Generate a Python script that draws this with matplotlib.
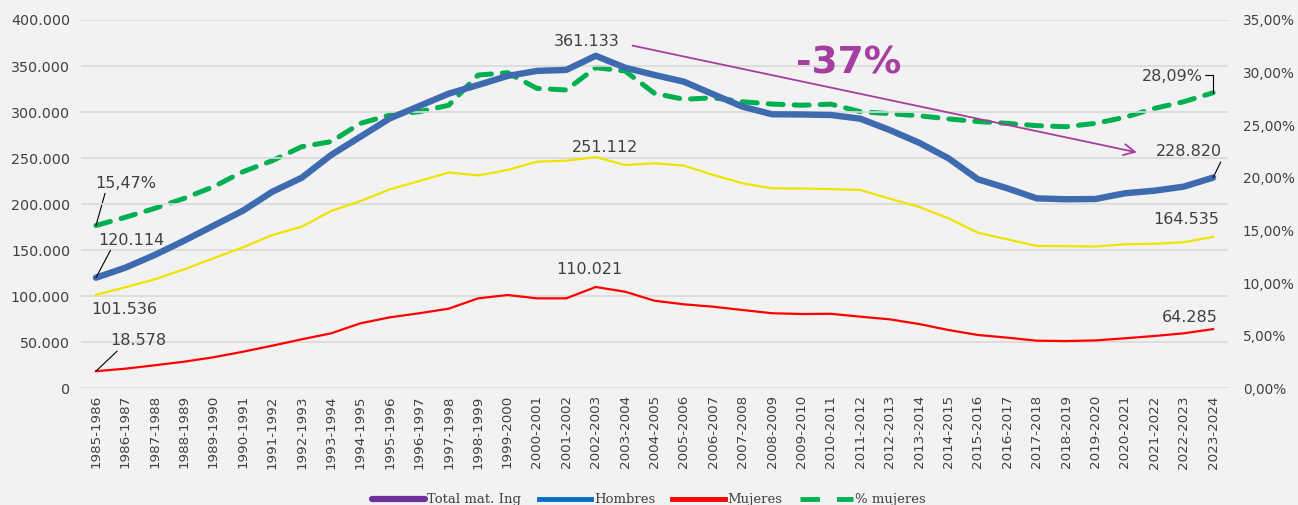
import matplotlib
matplotlib.use("Agg")
import matplotlib.pyplot as plt
from matplotlib.lines import Line2D
from matplotlib.ticker import FuncFormatter, MultipleLocator

# Cursos académicos
cursos = ["1985-1986", "1986-1987", "1987-1988", "1988-1989", "1989-1990", "1990-1991",
          "1991-1992", "1992-1993", "1993-1994", "1994-1995", "1995-1996", "1996-1997",
          "1997-1998", "1998-1999", "1999-2000", "2000-2001", "2001-2002", "2002-2003",
          "2003-2004", "2004-2005", "2005-2006", "2006-2007", "2007-2008", "2008-2009",
          "2009-2010", "2010-2011", "2011-2012", "2012-2013", "2013-2014", "2014-2015",
          "2015-2016", "2016-2017", "2017-2018", "2018-2019", "2019-2020", "2020-2021",
          "2021-2022", "2022-2023", "2023-2024"]

# Matriculados (miles)
total = [120.114, 131.0, 144.8, 160.3, 176.6, 192.9, 213.5, 228.7, 253.4, 273.3,
         293.2, 306.6, 320.0, 329.4, 339.2, 344.7, 345.8, 361.133, 348.2, 340.3,
         333.0, 319.3, 305.8, 297.6, 297.4, 296.8, 292.8, 280.5, 266.7, 249.8,
         227.0, 217.2, 206.3, 205.3, 205.6, 211.8, 214.6, 219.0, 228.820]
hombres = [101.536, 109.7, 118.4, 129.2, 141.2, 153.1, 166.5, 175.5, 192.6, 203.4,
           216.1, 225.1, 234.4, 231.2, 237.1, 246.1, 247.2, 251.112, 242.5, 244.4,
           241.8, 231.7, 222.6, 217.2, 217.0, 216.3, 215.4, 206.0, 197.0, 184.6,
           169.0, 161.8, 154.6, 154.4, 154.0, 156.4, 157.0, 158.6, 164.535]
mujeres = [18.578, 21.3, 25.0, 28.9, 33.7, 39.7, 46.3, 53.2, 59.7, 70.6,
           77.1, 81.5, 86.5, 97.7, 101.3, 97.7, 97.7, 110.021, 104.9, 95.1,
           91.2, 88.6, 85.0, 81.5, 80.7, 80.9, 77.8, 74.9, 69.8, 63.3,
           57.9, 55.0, 51.7, 51.3, 52.0, 54.3, 56.8, 59.7, 64.285]
pct_mujeres = [15.47, 16.25, 17.1, 18.05, 19.16, 20.58, 21.63, 22.96, 23.44, 25.18,
               25.97, 26.29, 26.9, 29.77, 29.99, 28.5, 28.35, 30.47, 30.15, 28.03,
               27.46, 27.61, 27.23, 27.01, 26.9, 27.0, 26.29, 26.1, 25.9, 25.6,
               25.35, 25.18, 24.96, 24.86, 25.18, 25.75, 26.6, 27.23, 28.09]

total = [v * 1000 for v in total]
hombres = [v * 1000 for v in hombres]
mujeres = [v * 1000 for v in mujeres]

fondo = "#F2F2F2"
gris = "#404040"
morado = "#A63EA0"

fig = plt.figure(figsize=(12.98, 5.05), dpi=100, facecolor=fondo)
ax = fig.add_axes([0.0626, 0.2311, 0.8833, 0.7293])
ax2 = ax.twinx()
ax.set_zorder(ax2.get_zorder() + 1)
ax.patch.set_visible(False)
ax2.patch.set_visible(False)

x = list(range(len(cursos)))

# % mujeres en el eje derecho
ax2.plot(x, pct_mujeres, color="#00B050", lw=3.6, linestyle=(0, (3, 2.2)), dash_capstyle="round")
ax2.set_ylim(0, 35)
ax2.yaxis.set_major_locator(MultipleLocator(5))
ax2.yaxis.set_major_formatter(FuncFormatter(lambda v, p: f"{v:.2f}".replace(".", ",") + "%"))

ax.plot(x, hombres, color="#F0E300", lw=1.6)
ax.plot(x, mujeres, color="#FF0000", lw=1.6)
ax.plot(x, total, color="#3E6BB0", lw=4.6, solid_joinstyle="round", solid_capstyle="round")

ax.set_xlim(-0.5, len(cursos) - 0.5)
ax.set_ylim(0, 400000)
ax.yaxis.set_major_locator(MultipleLocator(50000))
ax.yaxis.set_major_formatter(FuncFormatter(lambda v, p: f"{int(v):,}".replace(",", ".")))
ax.grid(axis="y", color="#D9D9D9", lw=1.2)
ax.set_axisbelow(True)
ax.set_xticks(x)
ax.set_xticklabels(cursos, rotation=90)

for a in (ax, ax2):
    for s in a.spines.values():
        s.set_visible(False)
ax.tick_params(axis="y", length=0, pad=8, labelsize=10.3, labelcolor=gris)
ax.tick_params(axis="x", length=0, pad=5, labelsize=9.7, labelcolor=gris)
ax2.tick_params(axis="y", length=0, pad=11, labelsize=9.8, labelcolor=gris)

# Etiquetas de datos
lbl = dict(fontsize=11.5, color=gris, ha="center", va="center")


def guia(rx):
    return dict(arrowstyle="-", color="black", lw=0.8, shrinkA=0, shrinkB=0, relpos=(rx, 0))


ax2.annotate("15,47%", xy=(0, pct_mujeres[0]), xytext=(1.02, 19.5), arrowprops=guia(0.17), **lbl)
ax.annotate("120.114", xy=(0, total[0]), xytext=(1.22, 161000), arrowprops=guia(0.2), **lbl)
ax.text(0.95, 86000, "101.536", **lbl)
ax.annotate("18.578", xy=(0, mujeres[0]), xytext=(1.43, 51500), arrowprops=guia(0.18), **lbl)
ax.text(16.7, 377000, "361.133", **lbl)
ax.text(17.3, 262000, "251.112", **lbl)
ax.text(16.8, 128600, "110.021", **lbl)
ax.annotate("228.820", xy=(38, total[-1]), xytext=(37.18, 256900), arrowprops=guia(1.0), **lbl)
ax.text(37.07, 182800, "164.535", **lbl)
ax.text(37.2, 76500, "64.285", **lbl)
ax2.annotate("28,09%", xy=(38, pct_mujeres[-1]), xytext=(36.6, 29.6),
             arrowprops=dict(arrowstyle="-", color="black", lw=0.8, shrinkA=0, shrinkB=0,
                             relpos=(1, 0.6), connectionstyle="angle,angleA=0,angleB=90,rad=0"),
             **lbl)

# Caída desde el máximo
ax.annotate("", xy=(35.5, 255600), xytext=(18.16, 372800),
            arrowprops=dict(arrowstyle="->,head_length=0.8,head_width=0.4", color=morado, lw=1.3))
ax.text(25.6, 353000, "-37%", fontsize=27, fontweight="bold", color=morado, ha="center", va="center")

# Leyenda
handles = [Line2D([], [], color="#7030A0", lw=4.5, solid_capstyle="round"),
           Line2D([], [], color="#0070C0", lw=3.5),
           Line2D([], [], color="#FF0000", lw=3.5),
           Line2D([], [], color="#00B050", lw=3.5, linestyle=(0, (4, 3.5)))]
names = ["Total mat. Ing", "Hombres", "Mujeres", "% mujeres"]
fig.legend(handles, names, loc="center", bbox_to_anchor=(0.5, 0.01), ncol=4, frameon=False,
           prop={"family": "DejaVu Serif", "size": 9.5}, labelcolor=gris,
           handlelength=4, handletextpad=0.2, columnspacing=1.3)

fig.savefig("out.png", dpi=100, facecolor=fondo)
